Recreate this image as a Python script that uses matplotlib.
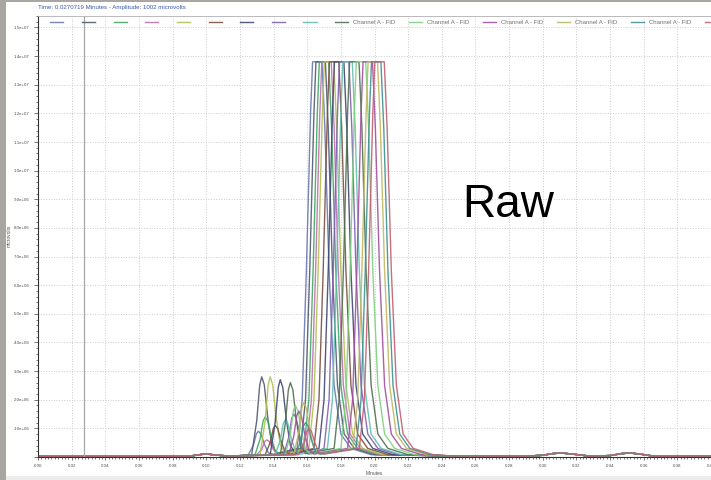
import matplotlib.pyplot as plt
from matplotlib.patches import Rectangle
from matplotlib.ticker import MultipleLocator, FuncFormatter
import numpy as np

plt.rcParams['font.family'] = ['Liberation Sans', 'DejaVu Sans']

# cursor readout from the software
cursor_min = 0.0270719
cursor_amp = 1002

# shared flat baseline (minutes, 1e6 microvolts)
base_left_t = [0.0, 0.06, 0.09, 0.096, 0.100, 0.105, 0.112]
base_left_v = [0.02, 0.02, 0.03, 0.08, 0.11, 0.07, 0.04]
base_right_t = [0.25, 0.29, 0.300, 0.306, 0.311, 0.318, 0.328, 0.340, 0.347, 0.352, 0.358, 0.366, 0.38, 0.40]
base_right_v = [0.04, 0.03, 0.06, 0.12, 0.14, 0.10, 0.03, 0.05, 0.12, 0.14, 0.10, 0.03, 0.03, 0.04]

# one list per injection: minutes / amplitude (1e6 microvolts), detector saturates at 13.8
trace_t = [
    [0.118, 0.125, 0.128, 0.1298, 0.131, 0.1325, 0.1345, 0.137, 0.140,
     0.154, 0.157, 0.1595, 0.162, 0.1632, 0.1688, 0.1705, 0.173, 0.176, 0.180, 0.186, 0.198, 0.245],
    [0.118, 0.127, 0.130, 0.1318, 0.133, 0.1345, 0.1365, 0.139, 0.142,
     0.156, 0.159, 0.1615, 0.164, 0.1652, 0.1708, 0.1725, 0.175, 0.178, 0.182, 0.188, 0.200, 0.245],
    [0.118, 0.129, 0.132, 0.1338, 0.135, 0.1365, 0.1385, 0.141, 0.144,
     0.158, 0.161, 0.1635, 0.166, 0.1672, 0.1728, 0.1745, 0.177, 0.180, 0.184, 0.190, 0.202, 0.245],
    [0.118, 0.130, 0.133, 0.1348, 0.136, 0.1375, 0.1395, 0.142, 0.145,
     0.1595, 0.1625, 0.165, 0.1675, 0.1687, 0.1743, 0.176, 0.1785, 0.1815, 0.1855, 0.1915, 0.2035, 0.245],
    [0.118, 0.132, 0.135, 0.1368, 0.138, 0.1395, 0.1415, 0.144, 0.147,
     0.161, 0.164, 0.1665, 0.169, 0.1702, 0.1758, 0.1775, 0.180, 0.183, 0.187, 0.193, 0.205, 0.245],
    [0.118, 0.135, 0.138, 0.1398, 0.141, 0.1425, 0.1445, 0.147, 0.150,
     0.164, 0.167, 0.1695, 0.172, 0.1732, 0.1788, 0.1805, 0.183, 0.186, 0.190, 0.196, 0.208, 0.245],
    [0.118, 0.138, 0.141, 0.1428, 0.144, 0.1455, 0.1475, 0.150, 0.153,
     0.167, 0.170, 0.1725, 0.175, 0.1762, 0.1818, 0.1835, 0.186, 0.189, 0.193, 0.199, 0.211, 0.245],
    [0.118, 0.146, 0.149, 0.1508, 0.152, 0.1535, 0.1555, 0.158, 0.161,
     0.170, 0.173, 0.1755, 0.178, 0.1792, 0.1848, 0.1865, 0.189, 0.192, 0.196, 0.202, 0.214, 0.245],
    [0.118, 0.141, 0.144, 0.1458, 0.147, 0.1485, 0.1505, 0.153, 0.156,
     0.172, 0.175, 0.1775, 0.180, 0.1812, 0.1868, 0.1885, 0.191, 0.194, 0.198, 0.204, 0.216, 0.245],
    [0.118, 0.144, 0.147, 0.1488, 0.150, 0.1515, 0.1535, 0.156, 0.159,
     0.176, 0.179, 0.1815, 0.184, 0.1852, 0.1908, 0.1925, 0.195, 0.198, 0.202, 0.208, 0.220, 0.245],
    [0.118, 0.147, 0.150, 0.1518, 0.153, 0.1545, 0.1565, 0.159, 0.162,
     0.180, 0.183, 0.1855, 0.188, 0.1892, 0.1948, 0.1965, 0.199, 0.202, 0.206, 0.212, 0.224, 0.245],
    [0.118, 0.149, 0.152, 0.1538, 0.155, 0.1565, 0.1585, 0.161, 0.164,
     0.184, 0.187, 0.1895, 0.192, 0.1932, 0.1988, 0.2005, 0.203, 0.206, 0.210, 0.216, 0.228, 0.245],
    [0.118, 0.152, 0.155, 0.1568, 0.158, 0.1595, 0.1615, 0.164, 0.167,
     0.187, 0.190, 0.1925, 0.195, 0.1962, 0.2018, 0.2035, 0.206, 0.209, 0.213, 0.219, 0.231, 0.245],
    [0.118, 0.153, 0.156, 0.1578, 0.159, 0.1605, 0.1625, 0.165, 0.168,
     0.189, 0.192, 0.1945, 0.197, 0.1982, 0.2038, 0.2055, 0.208, 0.211, 0.215, 0.221, 0.233, 0.245],
    [0.118, 0.155, 0.158, 0.1598, 0.161, 0.1625, 0.1645, 0.167, 0.170,
     0.191, 0.194, 0.1965, 0.199, 0.2002, 0.2058, 0.2075, 0.210, 0.213, 0.217, 0.223, 0.235, 0.245],
]
trace_v = [
    [0.04, 0.08, 0.41, 0.81, 0.9, 0.81, 0.45, 0.14, 0.10,
     0.3, 2.0, 6.5, 12.0, 13.8, 13.8, 11.5, 6.5, 2.5, 0.8, 0.3, 0.08, 0.04],
    [0.04, 0.08, 1.26, 2.52, 2.8, 2.52, 1.4, 0.42, 0.12,
     0.3, 2.0, 6.5, 12.0, 13.8, 13.8, 11.5, 6.5, 2.5, 0.8, 0.3, 0.08, 0.04],
    [0.04, 0.08, 0.63, 1.26, 1.4, 1.26, 0.7, 0.21, 0.10,
     0.3, 2.0, 6.5, 12.0, 13.8, 13.8, 11.5, 6.5, 2.5, 0.8, 0.3, 0.08, 0.04],
    [0.04, 0.08, 0.27, 0.54, 0.6, 0.54, 0.3, 0.09, 0.08,
     0.3, 2.0, 6.5, 12.0, 13.8, 13.8, 11.5, 6.5, 2.5, 0.8, 0.3, 0.08, 0.04],
    [0.04, 0.08, 1.26, 2.52, 2.8, 2.52, 1.4, 0.42, 0.12,
     0.3, 2.0, 6.5, 12.0, 13.8, 13.8, 11.5, 6.5, 2.5, 0.8, 0.3, 0.08, 0.04],
    [0.04, 0.08, 0.5, 0.99, 1.1, 0.99, 0.55, 0.17, 0.10,
     0.3, 2.0, 6.5, 12.0, 13.8, 13.8, 11.5, 6.5, 2.5, 0.8, 0.3, 0.08, 0.04],
    [0.04, 0.08, 1.22, 2.43, 2.7, 2.43, 1.35, 0.4, 0.12,
     0.3, 2.0, 6.5, 12.0, 13.8, 13.8, 11.5, 6.5, 2.5, 0.8, 0.3, 0.08, 0.04],
    [0.04, 0.08, 0.68, 1.35, 1.5, 1.35, 0.75, 0.23, 0.10,
     0.3, 2.0, 6.5, 12.0, 13.8, 13.8, 11.5, 6.5, 2.5, 0.8, 0.3, 0.08, 0.04],
    [0.04, 0.08, 0.59, 1.17, 1.3, 1.17, 0.65, 0.2, 0.10,
     0.3, 2.0, 6.5, 12.0, 13.8, 13.8, 11.5, 6.5, 2.5, 0.8, 0.3, 0.08, 0.04],
    [0.04, 0.08, 1.17, 2.34, 2.6, 2.34, 1.3, 0.39, 0.12,
     0.3, 2.0, 6.5, 12.0, 13.8, 13.8, 11.5, 6.5, 2.5, 0.8, 0.3, 0.08, 0.04],
    [0.04, 0.08, 0.81, 1.62, 1.8, 1.62, 0.9, 0.27, 0.10,
     0.3, 2.0, 6.5, 12.0, 13.8, 13.8, 11.5, 6.5, 2.5, 0.8, 0.3, 0.08, 0.04],
    [0.04, 0.08, 0.72, 1.44, 1.6, 1.44, 0.8, 0.24, 0.10,
     0.3, 2.0, 6.5, 12.0, 13.8, 13.8, 11.5, 6.5, 2.5, 0.8, 0.3, 0.08, 0.04],
    [0.04, 0.08, 0.86, 1.71, 1.9, 1.71, 0.95, 0.29, 0.10,
     0.3, 2.0, 6.5, 12.0, 13.8, 13.8, 11.5, 6.5, 2.5, 0.8, 0.3, 0.08, 0.04],
    [0.04, 0.08, 0.54, 1.08, 1.2, 1.08, 0.6, 0.18, 0.10,
     0.3, 2.0, 6.5, 12.0, 13.8, 13.8, 11.5, 6.5, 2.5, 0.8, 0.3, 0.08, 0.04],
    [0.04, 0.08, 0.45, 0.9, 1.0, 0.9, 0.5, 0.15, 0.10,
     0.3, 2.0, 6.5, 12.0, 13.8, 13.8, 11.5, 6.5, 2.5, 0.8, 0.3, 0.08, 0.04],
]
trace_colors = ['#6878b0', '#505a70', '#40a860', '#c070b0', '#b0c050',
                '#7a5040', '#404870', '#8060b0', '#60c0b0', '#507050',
                '#80d080', '#a050a0', '#c0b860', '#409090', '#c06070']
legend_labels = [''] * 9 + ['Channel A - FID'] * 6

fig = plt.figure(figsize=(7.11, 4.8), dpi=100)
fig.patch.set_facecolor('#a9a6a2')
fig.add_artist(Rectangle((6 / 711, 0), 1, 4 / 480, transform=fig.transFigure,
                         facecolor='#ececec', edgecolor='none', zorder=-1))
fig.add_artist(Rectangle((6 / 711, 4 / 480), 1, 1 - 6 / 480, transform=fig.transFigure,
                         facecolor='white', edgecolor='none', zorder=-1))

ax = fig.add_axes([38 / 711, 1 - 457 / 480, 1 - 38 / 711, 441 / 480])

lines = []
for t, v, c in zip(trace_t, trace_v, trace_colors):
    x = base_left_t + t + base_right_t
    y = np.array(base_left_v + v + base_right_v) * 1e6
    ln, = ax.plot(x, y, color=c, lw=1.0, alpha=0.9)
    lines.append(ln)

ax.axvline(cursor_min, color='#a8a8a8', lw=0.9)

ax.set_xlim(0, 0.40)
ax.set_ylim(0, 1.54e7)
ax.xaxis.set_major_locator(MultipleLocator(0.02))
ax.xaxis.set_minor_locator(MultipleLocator(0.002))
ax.xaxis.set_major_formatter(FuncFormatter(lambda v, p: f'{v:.2f}'))
ax.yaxis.set_major_locator(MultipleLocator(1e6))
ax.yaxis.set_minor_locator(MultipleLocator(2e5))
ax.yaxis.set_major_formatter(FuncFormatter(lambda v, p: '' if v < 1 else f'{v:.1e}'))

ax.grid(True, which='major', color='#cccccc', linestyle=':', linewidth=0.7)
ax.tick_params(which='both', colors='#404040', width=0.5, labelsize=3.2, labelcolor='#505050')
ax.tick_params(axis='y', which='major', length=3, pad=3)
ax.tick_params(axis='x', which='major', length=2, pad=3)
ax.tick_params(which='minor', length=1.3)
for s in ['left', 'bottom']:
    ax.spines[s].set_color('#303030')
    ax.spines[s].set_linewidth(0.8)
ax.spines['top'].set_color('#b0b0b0')
ax.spines['top'].set_linewidth(0.6)
ax.spines['right'].set_visible(False)

ax.set_xlabel('Minutes', fontsize=3.5, color='#505050', labelpad=2)
fig.text(9 / 711, 1 - 236 / 480, 'microvolts', rotation=90, fontsize=3.5,
         color='#505050', ha='center', va='center')
fig.text(38 / 711, 1 - 7 / 480,
         f'Time: {cursor_min} Minutes - Amplitude: {cursor_amp} microvolts',
         fontsize=4.4, color='#3858a8', ha='left', va='center')

ax.legend(lines, legend_labels, ncol=15, loc='upper left', bbox_to_anchor=(0.012, 1.0),
          frameon=False, fontsize=4.3, handlelength=2.2, handletextpad=0.8,
          columnspacing=2.3, borderaxespad=0.3, labelcolor='#707070')

fig.text(462 / 711, 1 - 217 / 480, 'Raw', fontsize=33, color='black',
         ha='left', va='baseline', family='Liberation Sans')

fig.savefig('out.png', dpi=100, facecolor=fig.get_facecolor())
